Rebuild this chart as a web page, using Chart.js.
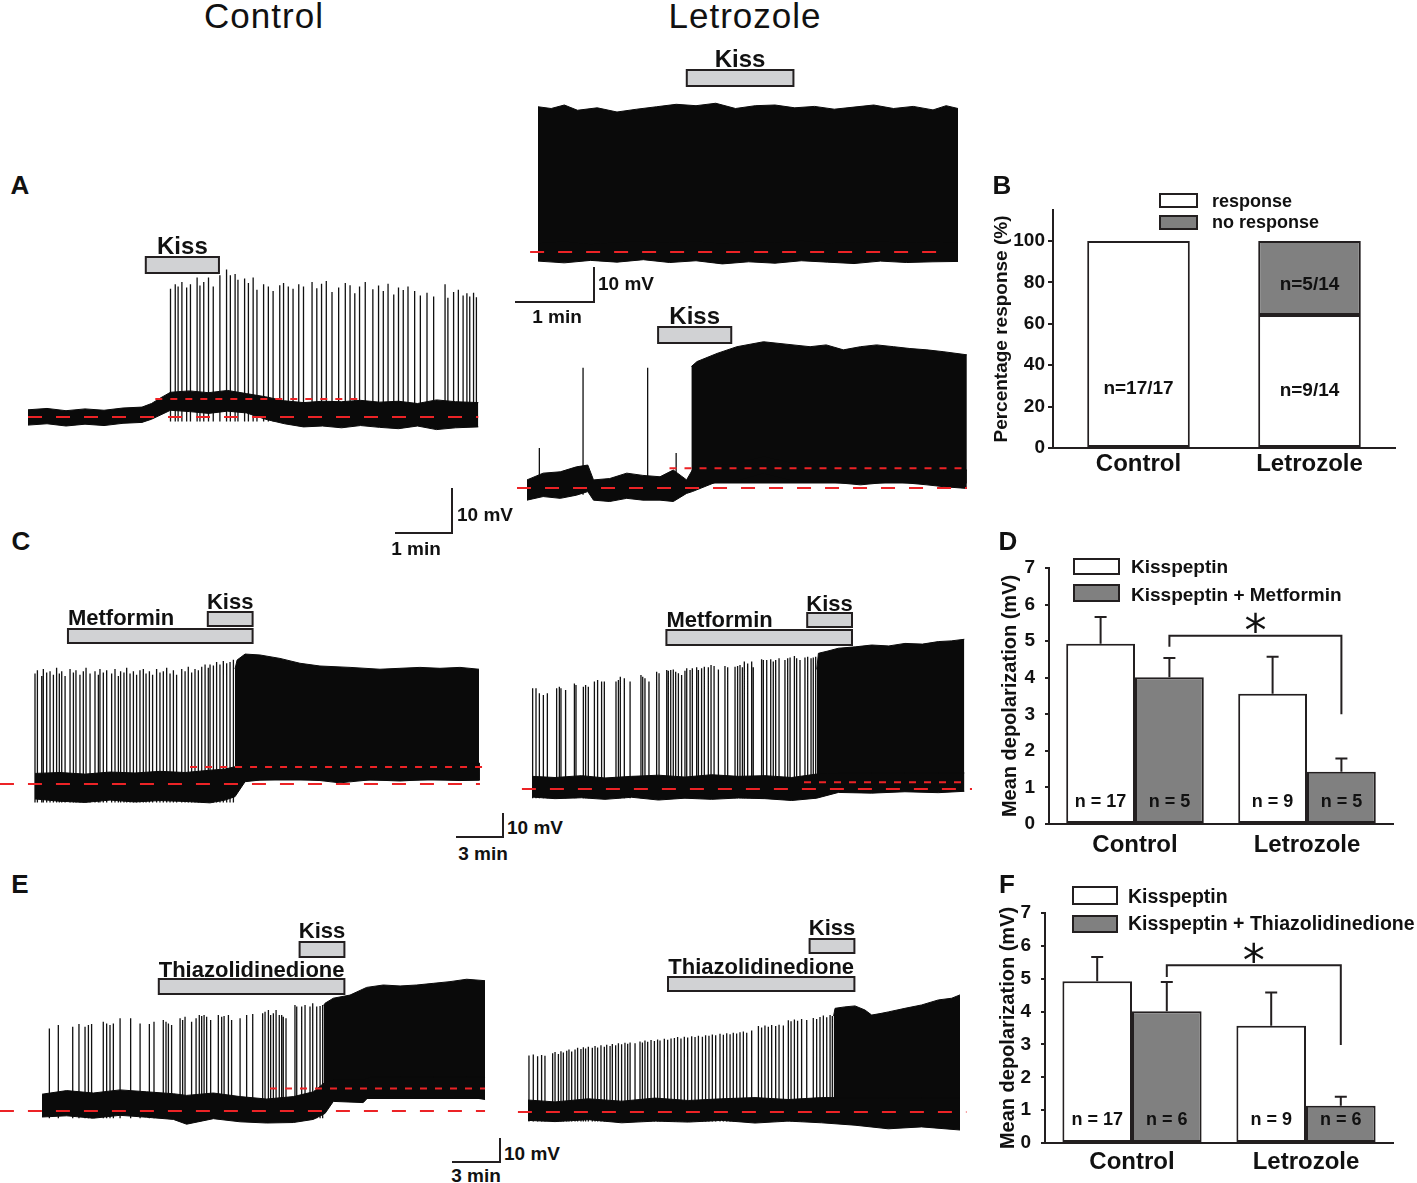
<!DOCTYPE html>
<html>
<head>
<meta charset="utf-8">
<script src="https://cdn.jsdelivr.net/npm/chart.js@4.4.1/dist/chart.umd.min.js"></script>
<style>
body { margin: 0; background: #fff; }
#fig { position: relative; width: 1417px; height: 1183px; overflow: hidden; font-family: "Liberation Sans", Arial, Helvetica, sans-serif; color: #111; }
#fig canvas { position: absolute; }
.t { position: absolute; white-space: nowrap; line-height: 1; }
.ln { position: absolute; background: #231f20; }
.box { position: absolute; border: 2px solid #231f20; box-sizing: border-box; }
</style>
</head>
<body>
<div id="fig"></div>
<script>
// ---- A, control trace (time s, mV from rest) ----
const acNoiseT = [0, 20, 40, 60, 80, 100, 120, 130, 140, 150, 170, 190, 210, 230, 250, 270, 290, 310, 330, 350, 370, 390, 410, 430, 450, 474];
const acNoiseHi = [1.6, 1.9, 1.4, 1.8, 1.5, 2.0, 2.2, 3.0, 4.3, 5.5, 5.8, 5.4, 5.9, 5.2, 4.5, 3.6, 3.2, 3.5, 3.4, 3.7, 3.3, 3.5, 3.0, 3.8, 3.4, 3.2];
const acNoiseLo = [-1.8, -1.5, -2.0, -1.6, -1.9, -1.4, -1.2, -0.5, 0.5, 1.5, 1.2, 0.8, 1.3, 0.9, -0.5, -1.5, -2.2, -2.0, -2.4, -1.9, -2.3, -2.6, -2.0, -2.8, -2.4, -2.2];
const acSpikeT = [150, 155, 158, 162, 167, 171, 178, 181, 185, 190, 195, 202, 209, 213, 218, 221, 228, 232, 237, 241,
  248, 253, 258, 265, 269, 274, 279, 285, 290, 299, 304, 309, 314, 320, 327, 334, 339, 344, 349, 355,
  363, 369, 374, 379, 385, 390, 395, 400, 407, 413, 420, 427, 439, 442, 448, 453, 458, 462, 465, 469, 472];
const acSpikePeak = [28.5, 29.5, 29.0, 30.0, 28.8, 29.5, 31.0, 29.2, 30.0, 31.0, 29.0, 31.5, 32.8, 31.5, 31.8, 30.5, 30.8, 29.8, 31.0, 28.3,
  29.5, 29.0, 28.0, 29.3, 29.8, 29.0, 28.5, 29.5, 29.0, 30.0, 28.6, 29.6, 30.2, 27.8, 28.8, 29.8, 29.3, 27.5, 29.0, 30.0,
  28.4, 29.2, 28.0, 29.6, 27.2, 28.8, 28.2, 29.0, 28.0, 27.0, 27.6, 26.8, 29.5, 26.5, 27.8, 28.3, 27.0, 27.5, 26.8, 27.6, 26.6];
const acLevels = [0, 4];
const acLevelSpan = [[0, 474], [134, 355]];
const acKiss = [124, 201];

// ---- A, letrozole upper trace (s, mV) ----
const al1NoiseT = [0, 20, 40, 60, 80, 100, 120, 140, 160, 180, 200, 220, 240, 260, 280, 300, 319];
const al1NoiseHi = [2.5, 3.0, 2.2, 2.8, 3.1, 2.6, 3.0, 2.4, 2.9, 2.7, 3.2, 2.5, 2.8, 3.0, 2.6, 2.9, 2.7];
const al1NoiseLo = [-2.6, -3.1, -2.4, -2.9, -2.2, -3.0, -2.5, -3.4, -2.8, -3.2, -2.5, -2.9, -3.3, -2.6, -3.0, -2.8, -2.7];
const al1BurstT = [0, 10, 20, 30, 45, 60, 75, 90, 105, 120, 135, 150, 165, 180, 195, 210, 225, 240, 255, 270, 285, 300, 310, 319];
const al1BurstHi = [41.5, 41.0, 42.0, 40.5, 41.2, 40.0, 40.8, 41.5, 42.2, 41.8, 42.5, 41.0, 41.8, 42.0, 41.2, 41.6, 40.8, 41.4, 42.0, 41.0, 41.6, 40.6, 41.8, 41.0];
const al1Levels = [0];
const al1LevelSpan = [[-6, 313]];
const al1Kiss = [113, 194];

// ---- A, letrozole lower trace (s, mV) ----
const al2NoiseT = [0, 17, 35, 52, 64, 70, 87, 105, 122, 140, 154, 168, 174, 200, 221, 249, 280, 315, 351, 386, 421, 438, 463];
const al2NoiseHi = [1.8, 3.3, 3.6, 4.7, 5.1, 1.8, 2.1, 3.3, 2.8, 2.5, 4.0, 1.8, 4.0, 5.0, 5.5, 7.0, 5.5, 5.0, 4.5, 4.5, 4.0, 4.0, 4.0];
const al2NoiseLo = [-2.7, -1.9, -2.3, -1.6, -0.8, -2.7, -3.0, -2.3, -2.7, -2.7, -3.0, -1.2, -0.8, 1.4, 1.6, 3.3, 1.6, 1.4, 0.7, 1.4, 0.7, 0.3, -0.1];
const al2SpikeT = [13, 59, 127, 157];
const al2SpikePeak = [8.9, 26.7, 26.7, 7.8];
const al2BurstT = [173, 179, 200, 221, 249, 280, 298, 315, 333, 351, 368, 386, 403, 421, 438, 463];
const al2BurstHi = [27.0, 28.1, 29.9, 31.4, 32.5, 31.8, 31.4, 31.8, 30.7, 31.4, 31.8, 31.4, 31.0, 30.7, 30.3, 29.6];
const al2Levels = [0, 4.4];
const al2LevelSpan = [[-10.5, 463], [150, 463]];
const al2Kiss = [138, 215];

// ---- C, control (time min, mV) ----
const clNoiseT = [0, 1.56, 3.13, 4.69, 6.25, 7.81, 9.38, 10.94, 11.88, 12.5, 13.13, 14.06, 15.94, 17.81, 19.06, 20.94, 22.81, 24.69, 26.56, 27.81];
const clNoiseHi = [4.6, 5.0, 4.3, 5.2, 4.8, 5.5, 5.0, 6.0, 6.5, 7.5, 9, 9, 9, 9, 9, 9, 9, 9, 9, 9];
const clNoiseLo = [-6.5, -7.5, -8.0, -7.0, -7.8, -7.2, -7.6, -8.2, -7.0, -5.5, 1.0, 1.7, 2.2, 1.5, 0.5, 1.8, 1.3, 2.0, 1.5, 1.7];
const clSpikeT = [0.0, 0.15, 0.42, 0.52, 0.73, 0.94, 1.15, 1.35, 1.52, 1.67, 1.88, 2.19, 2.40, 2.56, 2.81, 3.02, 3.19, 3.44, 3.75, 3.96,
  4.06, 4.27, 4.48, 4.79, 5.00, 5.21, 5.35, 5.56, 5.73, 5.94, 6.15, 6.35, 6.56, 6.77, 6.94, 7.15, 7.35, 7.60, 7.81, 8.02,
  8.23, 8.44, 8.65, 8.85, 9.17, 9.38, 9.58, 9.79, 10.00, 10.21, 10.42, 10.63, 10.83, 10.94, 11.15, 11.35, 11.56, 11.77, 11.98, 12.19, 12.40];
const clSpikePeak = [48, 49.5, 47, 50, 48.5, 49, 47.5, 50.5, 48, 49, 47, 50, 48.5, 49.5, 47.5, 49, 50.5, 48, 49, 47.5,
  50, 48.5, 49.5, 48, 50, 47, 49, 48.5, 50.5, 48, 49, 47.5, 49.5, 50, 48, 49, 47.5, 50, 48.5, 49,
  50.5, 48, 49.5, 47.5, 50, 49, 51, 48.5, 50, 49.5, 51, 52, 50.5, 52, 51.5, 53, 52, 53.5, 52.5, 53, 54];
const clBurstT = [12.5, 12.63, 13.13, 14.06, 15.31, 16.56, 17.81, 19.69, 21.56, 22.81, 24.06, 25.31, 26.56, 27.75];
const clBurstHi = [50.0, 53.9, 56.5, 56.1, 54.6, 52.5, 51.3, 50.7, 49.9, 50.3, 50.7, 50.3, 50.7, 49.9];
const clLevels = [0, 7.4];
const clLevelSpan = [[-2.19, 27.81], [9.69, 27.94]];
const clMet = [2.06, 13.6];
const clKiss = [10.8, 13.6];

// ---- C, letrozole (min, mV) ----
const crNoiseT = [0, 1.44, 3.1, 4.56, 6.23, 7.9, 9.56, 11.23, 12.9, 14.56, 16.23, 17.79, 19.15, 21.23, 23.31, 25.4, 27.02];
const crNoiseHi = [5.5, 5.0, 5.8, 4.8, 5.5, 6.0, 5.2, 6.2, 5.5, 5.8, 5.0, 6.5, 7.0, 7.0, 7.0, 7.0, 7.0];
const crNoiseLo = [-3.5, -4.2, -3.8, -4.5, -3.6, -4.8, -4.0, -4.5, -3.9, -4.2, -5.0, -4.0, -1.5, -1.8, -1.2, -1.6, -1.0];
const crSpikeT = [0.04, 0.25, 0.46, 0.71, 0.96, 1.54, 1.71, 1.81, 2.10, 2.65, 2.75, 3.21, 3.35, 3.52, 3.90, 4.10, 4.35, 4.52, 5.25, 5.40,
  5.52, 5.77, 6.13, 6.81, 6.92, 7.06, 7.31, 7.79, 7.94, 8.42, 8.52, 8.67, 8.83, 8.98, 9.15, 9.35, 9.56, 9.67, 9.88, 10.02,
  10.29, 10.40, 10.60, 10.77, 11.02, 11.19, 11.38, 11.65, 12.06, 12.23, 12.69, 12.85, 13.00, 13.15, 13.27, 13.48, 13.73, 13.83, 14.35, 14.46,
  14.67, 14.92, 15.08, 15.23, 15.44, 15.81, 15.98, 16.13, 16.40, 16.54, 16.75, 17.06, 17.23, 17.44, 17.58, 17.73];
const crSpikePeak = [43.8, 43.8, 41.6, 40.9, 41.6, 43.8, 44.5, 43.8, 43.0, 45.9, 45.2, 44.5, 45.2, 44.5, 46.7, 47.4, 46.7, 46.7, 46.7, 47.4,
  48.8, 48.1, 46.7, 49.6, 48.8, 48.1, 46.7, 51.0, 50.3, 51.7, 51.4, 51.7, 52.0, 51.0, 50.3, 49.6, 51.4, 52.5, 51.7, 52.5,
  52.9, 51.7, 52.5, 53.2, 52.9, 53.9, 53.5, 52.0, 53.5, 52.9, 53.2, 53.5, 53.9, 52.9, 55.4, 54.6, 55.4, 52.9, 56.4, 56.1,
  56.1, 56.4, 55.4, 56.1, 56.8, 56.1, 56.8, 57.2, 57.8, 56.8, 56.1, 57.2, 57.5, 56.8, 57.2, 57.5];
const crBurstT = [17.8, 17.9, 18.5, 19.15, 20.2, 21.23, 22.3, 23.31, 24.4, 25.4, 26.2, 27.02];
const crBurstHi = [52.0, 59.0, 60.0, 61.2, 61.8, 62.6, 62.2, 63.3, 63.0, 64.1, 64.4, 65.1];
const crLevels = [0, 2.9];
const crLevelSpan = [[-0.63, 27.5], [17.0, 27.25]];
const crMet = [8.4, 20.0];
const crKiss = [17.2, 20.0];

// ---- E, control (min, mV) ----
const elNoiseT = [0, 1.54, 3.21, 4.88, 6.54, 8.21, 9.04, 10.71, 12.38, 14.04, 15.71, 16.96, 17.69, 18.21, 20.08, 20.5, 22.38, 24.46, 26.54, 27.69];
const elNoiseHi = [7.0, 8.5, 7.5, 8.8, 8.0, 7.2, 6.5, 7.5, 6.0, 5.0, 6.0, 8.0, 12.0, 13.0, 13.0, 14.0, 14.0, 14.0, 14.0, 14.0];
const elNoiseLo = [-2.5, -2.0, -3.0, -1.8, -2.6, -3.5, -5.5, -3.2, -4.5, -5.0, -4.8, -3.5, -1.0, 4.0, 3.5, 6.5, 6.0, 5.5, 6.0, 4.8];
const elSpikeT = [0.46, 1.02, 1.92, 2.31, 2.69, 2.90, 3.10, 3.83, 4.04, 4.25, 4.46, 4.88, 5.54, 6.13, 6.71, 7.00, 7.58, 7.75, 7.90, 8.10,
  8.63, 8.79, 8.94, 9.35, 9.63, 9.83, 9.98, 10.13, 10.29, 10.54, 11.02, 11.23, 11.38, 11.65, 11.85, 12.38, 12.79, 13.17, 13.79, 13.94,
  14.15, 14.29, 14.46, 14.63, 14.83, 14.98, 15.08, 15.25, 15.81, 15.92, 16.23, 16.44, 16.75, 16.92, 17.17, 17.38, 17.54];
const elSpikePeak = [34.4, 35.8, 35.1, 36.3, 35.1, 35.8, 36.3, 37.2, 36.5, 35.8, 36.5, 38.6, 38.6, 36.5, 36.3, 37.2, 37.9, 37.2, 36.5, 35.8,
  38.6, 37.9, 39.3, 37.2, 38.6, 40.0, 39.6, 40.0, 39.3, 37.9, 40.0, 39.3, 39.6, 40.0, 37.9, 38.6, 40.0, 40.4, 40.7, 41.4,
  42.1, 40.0, 40.7, 42.1, 40.0, 40.0, 39.3, 38.6, 44.2, 43.5, 43.5, 44.2, 43.5, 44.9, 43.5, 43.8, 44.2];
const elBurstT = [17.6, 17.69, 18.21, 19.25, 20.29, 21.33, 22.38, 23.42, 24.46, 25.5, 26.54, 27.69];
const elBurstHi = [44.0, 44.9, 47.0, 48.3, 51.5, 52.5, 52.1, 52.5, 53.2, 53.9, 54.9, 54.3];
const elLevels = [0, 9.4];
const elLevelSpan = [[-2.63, 27.69], [14.25, 27.69]];
const elTzd = [7.3, 18.9];
const elKiss = [16.1, 18.9];

// ---- E, letrozole (min, mV) ----
const erNoiseT = [0, 1.69, 3.77, 5.85, 7.94, 10.02, 12.1, 14.19, 16.27, 18.35, 20.44, 22.52, 24.6, 27.0];
const erNoiseHi = [5.0, 4.2, 5.5, 4.5, 5.8, 4.8, 5.5, 6.0, 5.2, 6.0, 6.0, 6.0, 6.0, 6.0];
const erNoiseLo = [-3.5, -4.0, -3.2, -4.5, -3.8, -4.2, -3.5, -4.6, -3.8, -4.5, -5.5, -7.0, -6.2, -7.5];
const erSpikeT = [0.06, 0.33, 0.60, 0.85, 1.06, 1.54, 1.69, 1.90, 2.06, 2.21, 2.42, 2.56, 2.73,
  2.94, 3.10, 3.31, 3.46, 3.60, 3.77, 4.02, 4.19, 4.35, 4.56, 4.77, 4.92, 5.13, 5.27, 5.48, 5.65, 5.85, 6.06, 6.23, 6.38, 6.69,
  7.00, 7.15, 7.31, 7.48, 7.69, 7.90, 8.10, 8.25, 8.52, 8.73, 8.94, 9.15, 9.35, 9.56, 9.77, 9.98, 10.23, 10.44, 10.65, 10.90, 11.10,
  11.31, 11.52, 11.73, 12.00, 12.21, 12.42, 12.63, 12.83, 13.04, 13.25, 13.46, 13.67, 13.98, 14.40, 14.60, 14.81, 15.02, 15.23,
  15.48, 15.69, 15.96, 16.27, 16.44, 16.65, 16.85, 17.10, 17.42, 17.83, 18.04, 18.25, 18.46, 18.67, 18.88, 19.02];
const erSpikePeak = [23.5, 24.0, 23.2, 23.8, 23.4, 24.5, 25.0, 24.2, 25.3, 24.8, 25.5, 26.0, 25.2,
  26.0, 26.8, 26.2, 27.0, 26.5, 27.2, 26.8, 27.5, 26.9, 27.8, 27.2, 28.0, 27.5, 28.3, 27.8, 28.6, 28.2, 28.9, 28.4, 29.0, 28.6,
  29.4, 29.0, 29.8, 29.3, 30.0, 29.6, 30.2, 29.8, 30.5, 30.1, 30.6, 30.8, 31.2, 30.6, 31.4, 31.0, 31.6, 31.2, 31.8, 31.4, 32.0,
  31.8, 32.3, 32.0, 32.6, 32.2, 32.8, 32.4, 33.0, 32.7, 33.2, 33.5, 33.0, 34.0, 35.8, 35.2, 36.0, 35.5, 36.2,
  35.8, 36.4, 36.0, 38.2, 37.8, 38.5, 38.0, 38.8, 38.3, 39.2, 38.8, 39.6, 40.2, 39.5, 40.4, 40.0];
const erBurstT = [19.1, 19.19, 19.8, 20.44, 21.06, 21.48, 22.0, 22.52, 23.56, 24.6, 25.65, 26.48, 27.0];
const erBurstHi = [40.0, 43.2, 43.8, 44.2, 42.5, 40.4, 41.0, 41.7, 43.2, 44.6, 46.7, 47.4, 48.8];
const erLevels = [0];
const erLevelSpan = [[-0.63, 27.4]];
const erTzd = [8.75, 20.4];
const erKiss = [17.6, 20.4];

// ---- bar panels ----
const groups = ['Control', 'Letrozole'];
const bResp = [100, 64.3];
const bNoResp = [null, 35.7];
const bRespN = ['n=17/17', 'n=9/14'];
const bNoRespN = [null, 'n=5/14'];

const dKiss = [4.93, 3.56];
const dKissErr = [0.73, 1.01];
const dMet = [4.01, 1.43];
const dMetErr = [0.53, 0.36];
const dKissN = ['n = 17', 'n = 9'];
const dMetN = ['n = 5', 'n = 5'];

const fKiss = [4.92, 3.57];
const fKissErr = [0.74, 1.01];
const fTzd = [4.01, 1.13];
const fTzdErr = [0.89, 0.28];
const fKissN = ['n = 17', 'n = 9'];
const fTzdN = ['n = 6', 'n = 6'];

// ---------------------------------------------------------------
const fig = document.getElementById('fig');
const FONT = '"Liberation Sans", Arial, Helvetica, sans-serif';
const INK = '#231f20';
const TXT = '#111';
const RED = '#ec2326';
const GREY = '#808080';

Chart.defaults.font.family = FONT;
Chart.defaults.font.weight = 'bold';
Chart.defaults.font.size = 18;
Chart.defaults.color = TXT;

function addCanvas(b) {
  const c = document.createElement('canvas');
  c.width = b[2];
  c.height = b[3];
  c.style.left = b[0] + 'px';
  c.style.top = b[1] + 'px';
  c.style.width = b[2] + 'px';
  c.style.height = b[3] + 'px';
  fig.appendChild(c);
  return c;
}

function text(str, x, y, size, opts = {}) {
  const d = document.createElement('div');
  d.className = 't';
  d.textContent = str;
  d.style.left = x + 'px';
  d.style.top = y + 'px';
  d.style.fontSize = size + 'px';
  d.style.fontWeight = opts.weight || 'bold';
  if (opts.spacing) d.style.letterSpacing = opts.spacing + 'px';
  d.style.transform = opts.align === 'left' ? 'translate(0,-50%)' : 'translate(-50%,-50%)';
  fig.appendChild(d);
}

function line(x, y, w, h) {
  const d = document.createElement('div');
  d.className = 'ln';
  d.style.left = x + 'px'; d.style.top = y + 'px';
  d.style.width = w + 'px'; d.style.height = h + 'px';
  fig.appendChild(d);
}

function box(x, y, w, h, fill) {
  const d = document.createElement('div');
  d.className = 'box';
  d.style.left = x + 'px'; d.style.top = y + 'px';
  d.style.width = w + 'px'; d.style.height = h + 'px';
  d.style.background = fill;
  fig.appendChild(d);
}

const xy = (ts, vs) => ts.map((t, i) => ({ x: t, y: vs[i] }));

// each spike is a vertical stroke from the floor to its peak
function spikePoints(ts, peaks, floor) {
  const pts = [];
  ts.forEach((t, i) => {
    pts.push({ x: t, y: floor }, { x: t, y: peaks[i] }, { x: t, y: null });
  });
  return pts;
}

// drug application bars above a trace
function drugPlugin(drugs, b) {
  return {
    id: 'drugs',
    afterDraw(chart) {
      const ctx = chart.ctx;
      const xs = chart.scales.x;
      ctx.save();
      drugs.forEach(d => {
        const x1 = xs.getPixelForValue(d.span[0]);
        const x2 = xs.getPixelForValue(d.span[1]);
        const top = d.bar[0] - b[1];
        ctx.fillStyle = '#d1d2d4';
        ctx.fillRect(x1, top, x2 - x1, d.bar[1]);
        ctx.lineWidth = 2;
        ctx.strokeStyle = INK;
        ctx.strokeRect(x1, top, x2 - x1, d.bar[1]);
        ctx.font = 'bold ' + d.size + 'px ' + FONT;
        ctx.fillStyle = TXT;
        ctx.textAlign = d.align;
        ctx.textBaseline = 'alphabetic';
        const tx = d.align === 'left' ? x1 : (x1 + x2) / 2;
        ctx.fillText(d.name, tx, d.label - b[1] + d.size * 0.36);
      });
      ctx.restore();
    }
  };
}

function traceChart(tr) {
  const [L, T, W, H] = tr.box;
  const [x0, y0, kx, ky] = tr.map;
  const sets = [];
  tr.levels.forEach((lv, i) => sets.push({
    data: [{ x: tr.levelSpan[i][0], y: lv }, { x: tr.levelSpan[i][1], y: lv }],
    borderColor: RED, borderWidth: 2, borderDash: i === 0 ? [14, 14] : [7, 8], order: 0
  }));
  if (tr.burst) sets.push({
    data: xy(tr.burst[0], tr.burst[1]), borderColor: '#0a0a0a', borderWidth: 1,
    backgroundColor: '#0a0a0a', fill: { value: tr.burstFloor }, order: 2
  });
  if (tr.spikes) sets.push({
    data: spikePoints(tr.spikes[0], tr.spikes[1], tr.spikeFloor),
    borderColor: '#111', borderWidth: 1.3, order: 3
  });
  sets.push({ data: xy(tr.noise[0], tr.noise[1]), borderColor: '#0a0a0a', borderWidth: 1, backgroundColor: '#0a0a0a', fill: '+1', order: 1 });
  sets.push({ data: xy(tr.noise[0], tr.noise[2]), borderColor: '#0a0a0a', borderWidth: 1, fill: false, order: 1 });

  new Chart(addCanvas(tr.box), {
    type: 'line',
    data: { datasets: sets },
    options: {
      responsive: false, animation: false, devicePixelRatio: 1, events: [],
      plugins: { legend: { display: false }, tooltip: { enabled: false } },
      elements: { point: { radius: 0 }, line: { tension: 0 } },
      scales: {
        x: { type: 'linear', display: false, min: (L - x0) / kx, max: (L + W - x0) / kx },
        y: { type: 'linear', display: false, min: (y0 - T - H) / ky, max: (y0 - T) / ky }
      }
    },
    plugins: [drugPlugin(tr.drugs, tr.box)]
  });
}

const traces = [
  { box: [20, 235, 470, 200], map: [28, 417, 0.95, 4.5],
    noise: [acNoiseT, acNoiseHi, acNoiseLo], spikes: [acSpikeT, acSpikePeak], spikeFloor: -1,
    levels: acLevels, levelSpan: acLevelSpan,
    drugs: [{ name: 'Kiss', span: acKiss, bar: [257, 16], label: 245, size: 24, align: 'center' }] },
  { box: [520, 45, 450, 225], map: [538, 252, 79 / 60, 3.5],
    noise: [al1NoiseT, al1NoiseHi, al1NoiseLo], burst: [al1BurstT, al1BurstHi], burstFloor: -2,
    levels: al1Levels, levelSpan: al1LevelSpan,
    drugs: [{ name: 'Kiss', span: al1Kiss, bar: [70, 16], label: 58, size: 24, align: 'center' }] },
  { box: [505, 300, 475, 205], map: [527, 488, 0.95, 4.5],
    noise: [al2NoiseT, al2NoiseHi, al2NoiseLo], spikes: [al2SpikeT, al2SpikePeak], spikeFloor: -1.5,
    burst: [al2BurstT, al2BurstHi], burstFloor: 1.0,
    levels: al2Levels, levelSpan: al2LevelSpan,
    drugs: [{ name: 'Kiss', span: al2Kiss, bar: [327, 16], label: 315, size: 24, align: 'center' }] },
  { box: [0, 590, 495, 225], map: [35, 784, 16, 2.3],
    noise: [clNoiseT, clNoiseHi, clNoiseLo], spikes: [clSpikeT, clSpikePeak], spikeFloor: -8,
    burst: [clBurstT, clBurstHi], burstFloor: 1.5,
    levels: clLevels, levelSpan: clLevelSpan,
    drugs: [{ name: 'Metformin', span: clMet, bar: [629, 14], label: 617, size: 22, align: 'left' },
            { name: 'Kiss', span: clKiss, bar: [612, 14], label: 601, size: 22, align: 'center' }] },
  { box: [505, 590, 480, 225], map: [532, 789, 16, 2.3],
    noise: [crNoiseT, crNoiseHi, crNoiseLo], spikes: [crSpikeT, crSpikePeak], spikeFloor: -4,
    burst: [crBurstT, crBurstHi], burstFloor: -1,
    levels: crLevels, levelSpan: crLevelSpan,
    drugs: [{ name: 'Metformin', span: crMet, bar: [630, 15], label: 619, size: 22, align: 'left' },
            { name: 'Kiss', span: crKiss, bar: [613, 14], label: 603, size: 22, align: 'center' }] },
  { box: [0, 915, 495, 225], map: [42, 1111, 16, 2.4],
    noise: [elNoiseT, elNoiseHi, elNoiseLo], spikes: [elSpikeT, elSpikePeak], spikeFloor: -3,
    burst: [elBurstT, elBurstHi], burstFloor: 5,
    levels: elLevels, levelSpan: elLevelSpan,
    drugs: [{ name: 'Thiazolidinedione', span: elTzd, bar: [979, 15], label: 969, size: 22, align: 'center' },
            { name: 'Kiss', span: elKiss, bar: [942, 15], label: 930, size: 22, align: 'center' }] },
  { box: [505, 915, 480, 225], map: [528, 1112, 16, 2.4],
    noise: [erNoiseT, erNoiseHi, erNoiseLo], spikes: [erSpikeT, erSpikePeak], spikeFloor: -4,
    burst: [erBurstT, erBurstHi], burstFloor: -3,
    levels: erLevels, levelSpan: erLevelSpan,
    drugs: [{ name: 'Thiazolidinedione', span: erTzd, bar: [977, 14], label: 966, size: 22, align: 'center' },
            { name: 'Kiss', span: erKiss, bar: [939, 14], label: 927, size: 22, align: 'center' }] }
];
traces.forEach(traceChart);

// error bars, n labels and significance bracket on the bar panels
function barMarks(p) {
  return {
    id: 'marks',
    afterDatasetsDraw(chart) {
      const ctx = chart.ctx;
      const ys = chart.scales.y;
      ctx.save();
      ctx.strokeStyle = INK;
      ctx.lineWidth = 2;
      (p.errs || []).forEach((errs, di) => {
        const meta = chart.getDatasetMeta(di);
        errs.forEach((e, j) => {
          const bar = meta.data[j];
          const yt = ys.getPixelForValue(chart.data.datasets[di].data[j] + e);
          ctx.beginPath();
          ctx.moveTo(bar.x, bar.y);
          ctx.lineTo(bar.x, yt);
          ctx.moveTo(bar.x - 6, yt);
          ctx.lineTo(bar.x + 6, yt);
          ctx.stroke();
        });
      });
      ctx.font = 'bold ' + p.nSize + 'px ' + FONT;
      ctx.fillStyle = TXT;
      ctx.textAlign = 'center';
      ctx.textBaseline = 'alphabetic';
      p.nLabels.forEach((labs, di) => {
        const meta = chart.getDatasetMeta(di);
        labs.forEach((s, j) => {
          if (!s) return;
          ctx.fillText(s, meta.data[j].x, ys.getPixelForValue(p.nAt[di][j]) + p.nSize * 0.36);
        });
      });
      if (p.sig) {
        const meta = chart.getDatasetMeta(1);
        const xl = meta.data[0].x, xr = meta.data[1].x;
        const yt = ys.getPixelForValue(p.sig.top);
        ctx.beginPath();
        ctx.moveTo(xl, ys.getPixelForValue(p.sig.leftEnd));
        ctx.lineTo(xl, yt);
        ctx.lineTo(xr, yt);
        ctx.lineTo(xr, ys.getPixelForValue(p.sig.rightEnd));
        ctx.stroke();
        ctx.font = 'normal 44px "DejaVu Sans", sans-serif';
        const m = ctx.measureText('*');
        const cy = yt - 13;
        ctx.fillText('*', (xl + xr) / 2, cy + (m.actualBoundingBoxAscent - m.actualBoundingBoxDescent) / 2);
      }
      ctx.restore();
    }
  };
}

function barPanel(p) {
  new Chart(addCanvas(p.box), {
    type: 'bar',
    data: {
      labels: groups,
      datasets: p.sets.map((s, i) => ({
        data: s, backgroundColor: p.colors[i], borderColor: INK, borderWidth: 2, borderSkipped: false
      }))
    },
    options: {
      responsive: false, animation: false, devicePixelRatio: 1, events: [],
      layout: { padding: p.pad },
      plugins: { legend: { display: false }, tooltip: { enabled: false } },
      datasets: { bar: { categoryPercentage: p.cat, barPercentage: p.bar } },
      scales: {
        x: {
          stacked: !!p.stacked,
          grid: { display: false, drawTicks: false },
          border: { display: true, color: INK, width: 2 },
          ticks: { color: TXT, padding: p.xPad, font: { family: FONT, size: 24, weight: 'bold' } },
          afterFit: s => { s.height = p.xH; }
        },
        y: {
          stacked: !!p.stacked, min: 0, max: p.max,
          ticks: { stepSize: p.step, includeBounds: false, color: TXT, padding: p.yPad, font: { family: FONT, size: 19, weight: 'bold' } },
          grid: { drawOnChartArea: false, drawTicks: true, tickLength: p.tick, color: INK, lineWidth: 2 },
          border: { display: true, color: INK, width: 2 },
          title: { display: true, text: p.title, color: TXT, padding: { top: 0, bottom: 0 }, font: { family: FONT, size: p.titleSize, weight: 'bold' } },
          afterFit: s => { s.width = p.yW; }
        }
      }
    },
    plugins: [barMarks(p)]
  });
}

barPanel({
  box: [990, 180, 415, 300], pad: { top: 30, right: 10, left: 0, bottom: 0 },
  yW: 63, xH: 32, max: 115, step: 20, tick: 5, yPad: 3, xPad: 2, stacked: true, cat: 1, bar: 0.6,
  title: 'Percentage response (%)', titleSize: 19,
  sets: [bResp, bNoResp], colors: ['#fff', GREY],
  nLabels: [bRespN, bNoRespN], nAt: [[29.6, 28.6], [null, 79.6]], nSize: 19
});
barPanel({
  box: [998, 540, 407, 320], pad: { top: 28, right: 12, left: 0, bottom: 0 },
  yW: 51, xH: 36, max: 7, step: 1, tick: 4, yPad: 10, xPad: 7, cat: 0.8, bar: 1,
  title: 'Mean depolarization (mV)', titleSize: 20,
  sets: [dKiss, dMet], colors: ['#fff', GREY], errs: [dKissErr, dMetErr],
  nLabels: [dKissN, dMetN], nAt: [[0.63, 0.63], [0.63, 0.63]], nSize: 18,
  sig: { top: 5.15, leftEnd: 4.85, rightEnd: 3.0 }
});
barPanel({
  box: [996, 885, 409, 294], pad: { top: 28, right: 12, left: 0, bottom: 0 },
  yW: 49, xH: 36, max: 7, step: 1, tick: 4, yPad: 10, xPad: 5, cat: 0.8, bar: 1,
  title: 'Mean depolarization (mV)', titleSize: 20,
  sets: [fKiss, fTzd], colors: ['#fff', GREY], errs: [fKissErr, fTzdErr],
  nLabels: [fKissN, fTzdN], nAt: [[0.76, 0.76], [0.76, 0.76]], nSize: 18,
  sig: { top: 5.41, leftEnd: 5.05, rightEnd: 2.98 }
});

// titles and panel letters
text('Control', 264, 15, 35, { weight: 'normal', spacing: 1 });
text('Letrozole', 745, 15, 35, { weight: 'normal', spacing: 1 });
text('A', 20, 185, 26);
text('B', 1002, 185, 26);
text('C', 21, 541, 26);
text('D', 1008, 541, 26);
text('E', 20, 884, 26);
text('F', 1007, 884, 26);

// scale bars
line(451, 488, 2, 46); line(395, 532, 58, 2);
text('10 mV', 457, 514, 19, { align: 'left' }); text('1 min', 416, 548, 19);
line(593, 267, 2, 36); line(515, 301, 80, 2);
text('10 mV', 598, 283, 19, { align: 'left' }); text('1 min', 557, 316, 19);
line(502, 813, 2, 25); line(456, 836, 48, 2);
text('10 mV', 507, 827, 19, { align: 'left' }); text('3 min', 483, 853, 19);
line(499, 1138, 2, 25); line(452, 1161, 49, 2);
text('10 mV', 504, 1153, 19, { align: 'left' }); text('3 min', 476, 1175, 19);

// legends
box(1159, 193, 39, 15, '#fff'); box(1159, 215, 39, 15, GREY);
text('response', 1212, 201, 18, { align: 'left' }); text('no response', 1212, 222, 18, { align: 'left' });
box(1073, 558, 47, 17, '#fff'); box(1073, 584, 47, 18, GREY);
text('Kisspeptin', 1131, 566, 19, { align: 'left' }); text('Kisspeptin + Metformin', 1131, 594, 19, { align: 'left' });
box(1072, 886, 46, 19, '#fff'); box(1072, 915, 46, 18, GREY);
text('Kisspeptin', 1128, 897, 19.5, { align: 'left' }); text('Kisspeptin + Thiazolidinedione', 1128, 924, 19.5, { align: 'left' });
</script>
</body>
</html>
